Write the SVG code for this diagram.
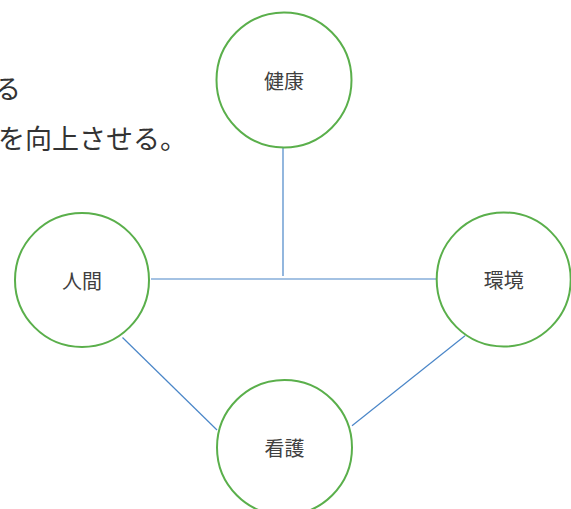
<svg xmlns="http://www.w3.org/2000/svg" width="571" height="509" viewBox="0 0 571 509">
<style>
.node circle{fill:#ffffff;stroke:#5aaf4b;stroke-width:2}
.node text{font-family:"Noto Sans CJK JP","Noto Sans CJK SC",sans-serif;font-size:20px;fill:#404040;text-anchor:middle;dominant-baseline:central}
.conn line{stroke:#4a86c8;stroke-width:1.2;fill:none}
.note{font-family:"Noto Sans CJK JP","Noto Sans CJK SC",sans-serif;font-size:27px;fill:#333333;text-anchor:end}
</style>
<rect width="571" height="509" fill="#ffffff"/>
<g id="note">
<text class="note" x="21" y="99">る</text>
<text class="note" x="187" y="149">を向上させる。</text>
</g>
<g id="connectors" class="conn">
<line x1="283" y1="148" x2="283" y2="276"/>
<line x1="151" y1="279" x2="437" y2="279"/>
<line x1="122.5" y1="337.5" x2="217" y2="430"/>
<line x1="352" y1="425.7" x2="465" y2="335.7"/>
</g>
<g id="node-kenkou" class="node">
<circle cx="284" cy="80" r="67.5"/>
<text x="284" y="80">健康</text>
</g>
<g id="node-ningen" class="node">
<circle cx="82" cy="280" r="67"/>
<text x="82" y="280">人間</text>
</g>
<g id="node-kankyou" class="node">
<circle cx="503.7" cy="279.5" r="67"/>
<text x="503.7" y="279.5">環境</text>
</g>
<g id="node-kango" class="node">
<circle cx="284.5" cy="447.5" r="67.5"/>
<text x="284.5" y="447.5">看護</text>
</g>
</svg>
